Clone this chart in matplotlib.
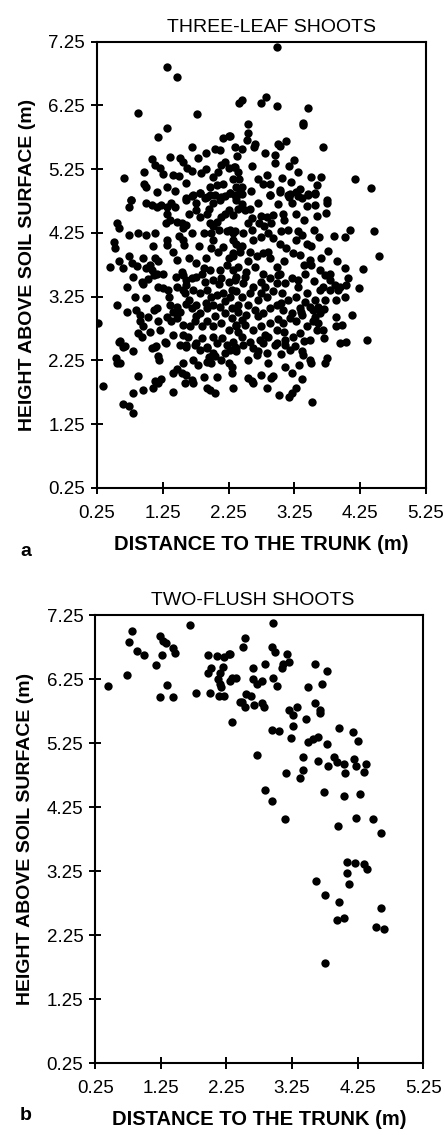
"""Two scatter panels: shoot positions (distance to trunk vs height above soil)."""

import matplotlib

matplotlib.use("Agg")
import matplotlib.pyplot as plt

plt.rcParams["font.family"] = ["Liberation Sans", "DejaVu Sans"]

# panel a: three-leaf shoots (distance m, height m)
leaf_x = [
    1.32, 1.47, 0.88, 1.77, 1.32, 1.17, 2.16, 2.26, 2.41, 2.04, 2.12, 1.08, 1.36, 1.51, 1.55,
    1.79, 0.66, 0.96, 1.13, 1.21, 1.26, 1.41, 1.49, 1.62, 1.70, 1.83, 0.96, 0.99, 1.16, 1.31,
    1.44, 1.60, 0.76, 2.02, 2.09, 2.14, 2.20, 2.25, 2.35, 2.40, 1.97, 2.07, 2.17, 2.32, 2.37,
    1.71, 1.82, 1.92, 2.04, 2.14, 2.27, 2.37, 1.61,
    2.98, 2.46, 2.82, 2.74, 2.98, 3.46, 3.38, 3.38, 3.69, 2.55, 2.55, 2.53, 2.65, 2.64, 2.46,
    2.38, 2.27, 3.00, 3.03, 3.12, 2.95, 2.95, 3.17, 3.24, 2.33, 3.50, 3.66, 4.17, 4.41, 2.83,
    2.78, 2.88, 3.06, 2.41, 2.46, 2.42, 2.59, 2.35, 2.45, 3.03, 3.33, 2.88, 3.18, 3.31, 3.46,
    3.56, 3.74,
    0.74, 0.76, 1.00, 1.08, 1.16, 1.23, 1.31, 1.31, 1.38, 1.44, 1.36, 1.46, 1.54, 1.61, 1.56,
    1.61, 1.69, 1.76, 1.82, 1.89, 1.97, 2.02, 2.12, 2.20, 2.27, 2.37, 1.76, 1.82, 1.92, 2.14,
    2.07, 2.02, 1.97, 2.25, 2.32, 2.40, 0.55, 0.59, 0.74, 0.88, 1.00, 1.13, 1.31, 1.32, 1.56,
    1.57, 1.87, 1.99, 2.02, 2.22, 2.32, 0.51, 0.52, 0.45, 0.59, 0.65, 0.73, 0.78, 0.86, 1.00,
    1.08, 1.06, 1.13, 1.18, 1.46, 1.54, 1.56, 1.99, 2.09, 2.17, 2.32, 2.42, 1.76, 1.87, 1.97,
    2.12, 2.22, 2.32, 1.61, 1.69, 1.76, 1.89, 2.02, 2.14, 2.25, 2.37, 0.93, 1.03, 1.11, 1.16,
    1.18, 1.26, 1.33, 1.46, 1.56, 1.61, 1.59, 1.71, 1.82, 1.92, 1.99, 2.07, 2.17, 2.27, 2.37,
    0.83, 1.00, 0.56, 0.85, 0.90, 1.03, 1.11, 1.16, 1.36, 1.46, 1.51, 1.61, 1.69, 1.76, 1.82,
    1.92, 2.02, 2.12, 2.20, 2.30, 2.40, 0.27, 0.60, 0.65, 0.90, 0.95, 0.88, 0.93, 1.18, 1.21,
    1.31, 1.38, 1.46, 1.56, 1.66, 1.74, 1.84, 1.92, 2.02, 2.14, 2.25, 2.37, 1.13, 1.28, 1.51,
    1.61, 1.76, 1.92, 2.07, 2.22, 2.35, 1.41, 2.02, 1.64,
    2.88, 3.03, 3.16, 3.28, 3.36, 3.46, 3.56, 3.74, 3.73, 3.56, 3.44, 3.21, 3.17, 3.08, 3.27,
    2.50, 2.58, 2.61, 2.75, 2.84, 2.93, 2.72, 2.79, 2.90, 2.55, 2.35, 2.32, 2.37, 4.09, 4.02,
    4.46, 4.54, 3.63, 3.76, 3.16, 3.31, 3.36, 3.28, 3.44, 4.02, 4.30, 4.07, 4.04, 4.24, 4.02,
    4.12, 4.36, 3.94, 4.04, 3.89, 3.89, 3.98, 3.64, 3.71, 3.79, 3.87, 3.92, 3.89, 3.79, 3.69,
    3.64, 3.71, 3.61, 3.56, 3.64, 3.61, 3.69, 3.59, 3.53, 3.54,
    2.27, 2.47, 2.62, 2.75, 2.93, 3.03, 3.13, 3.23, 3.33, 3.49, 3.51, 3.41, 3.31, 3.21, 3.11,
    3.03, 2.98, 2.88, 2.78, 2.68, 2.57, 2.42, 2.32, 2.40, 2.52, 2.65, 2.78, 2.88, 2.98, 2.75,
    2.62, 2.47, 2.35, 2.30, 2.45, 2.57, 2.70, 2.83, 2.93, 3.06, 3.16, 3.28, 3.41, 3.49, 3.33,
    3.21, 3.08, 2.98, 2.88, 2.78, 2.65, 2.52, 2.40, 2.30, 2.37, 2.50, 2.62, 2.75, 2.88, 2.98,
    3.08, 3.18, 3.28, 3.36, 3.44, 3.33, 3.23, 3.11, 2.98, 2.85, 2.73, 2.57, 2.45, 2.32, 3.49,
    3.56,
    0.59, 0.68, 0.34, 0.54, 0.56, 0.60, 0.64, 0.73, 0.80, 0.79, 0.88, 0.95, 1.08, 1.15, 1.18,
    1.30, 1.10, 1.13, 1.18, 1.22, 1.40, 1.41, 1.46, 1.56, 1.54, 1.61, 1.59, 1.69, 1.71, 1.61,
    1.74, 1.82, 1.92, 2.02, 1.71, 1.79, 1.92, 1.87, 1.92, 1.97, 2.04, 2.07, 1.99, 2.04, 2.14,
    2.20, 2.27, 2.37, 2.30, 2.30, 2.32,
    2.37, 2.47, 2.62, 2.68, 2.70, 2.78, 2.83, 2.95, 3.11, 3.18, 3.26, 3.36, 3.38, 3.49, 3.51,
    3.71, 3.74, 2.75, 2.55, 2.60, 2.62, 2.90, 2.93, 2.84, 3.11, 3.22, 3.32, 3.36, 3.02, 3.17,
    3.22, 3.28, 3.52,
    # denser core, estimated
    1.65, 1.95, 2.20, 2.45, 2.70, 3.00, 3.10, 3.40, 3.55, 3.60,
    1.50, 1.70, 1.80, 2.10, 2.45, 2.60, 2.85, 3.05, 3.50, 3.85,
    1.40, 1.65, 1.90, 2.25, 2.55, 2.85, 3.10, 3.40, 3.65, 3.90,
    1.25, 1.45, 1.85, 2.10, 2.50, 2.80, 3.00, 3.30, 3.55, 3.80,
    1.35, 1.65, 1.90, 2.20, 2.55, 2.75, 3.05, 3.45, 3.70, 3.95,
    1.40, 1.75, 2.05, 2.45, 2.70, 3.00, 3.35, 3.70, 1.55, 1.85,
    2.15, 2.40, 2.80, 3.10, 3.40, 1.95, 2.25, 2.55, 2.85, 3.05,
    1.30, 1.10, 0.95, 0.80, 0.70, 0.95, 0.70, 1.05, 0.80, 1.20,
    1.70, 1.90, 2.35, 2.80, 3.30, 3.60, 1.90, 2.60, 2.70, 3.20,
]
leaf_y = [
    6.85, 6.70, 6.13, 6.11, 5.89, 5.75, 5.74, 5.77, 6.29, 5.56, 5.55, 5.40, 5.44, 5.42, 5.36,
    5.42, 5.11, 5.21, 5.32, 5.26, 5.17, 5.15, 5.14, 5.26, 5.22, 5.19, 5.02, 4.96, 4.89, 4.96,
    4.91, 5.03, 4.77, 5.13, 5.21, 5.31, 5.36, 5.26, 5.28, 5.21, 4.97, 5.00, 5.02, 5.10, 4.97,
    4.84, 4.87, 4.81, 4.84, 4.81, 4.87, 4.81, 4.79,
    7.16, 6.33, 6.38, 6.29, 6.24, 6.20, 5.97, 5.94, 5.60, 5.95, 5.82, 5.71, 5.65, 5.59, 5.57,
    5.46, 5.77, 5.65, 5.61, 5.69, 5.47, 5.34, 5.30, 5.39, 5.28, 5.12, 5.13, 5.09, 4.95, 5.16,
    5.02, 5.02, 5.11, 5.09, 4.97, 4.90, 4.90, 4.84, 4.86, 4.92, 4.93, 4.84, 4.86, 4.82, 4.86,
    4.87, 4.77,
    4.66, 4.76, 4.71, 4.68, 4.66, 4.68, 4.66, 4.55, 4.71, 4.66, 4.45, 4.42, 4.40, 4.37, 4.32,
    4.76, 4.82, 4.71, 4.87, 4.79, 4.84, 4.71, 4.76, 4.82, 4.87, 4.76, 4.61, 4.50, 4.55, 4.50,
    4.42, 4.35, 4.40, 4.61, 4.53, 4.63, 4.40, 4.32, 4.21, 4.25, 4.21, 4.24, 4.14, 4.06, 4.14,
    4.06, 4.24, 4.24, 4.14, 4.27, 4.24, 4.11, 4.01, 3.72, 3.80, 3.69, 3.88, 3.77, 3.73, 3.69,
    3.67, 3.74, 3.85, 3.80, 3.82, 3.64, 3.59, 4.01, 3.95, 4.03, 3.93, 4.01, 3.77, 3.69, 3.67,
    3.67, 3.74, 3.67, 3.51, 3.54, 3.56, 3.48, 3.51, 3.54, 3.48, 3.56, 3.48, 3.52, 3.59, 3.61,
    3.40, 3.38, 3.35, 3.40, 3.35, 3.43, 3.30, 3.35, 3.30, 3.35, 3.25, 3.27, 3.30, 3.25, 3.33,
    3.25, 3.22, 3.12, 3.04, 2.96, 2.93, 3.04, 3.07, 3.12, 3.09, 3.01, 3.14, 3.07, 3.12, 2.99,
    3.07, 3.12, 3.09, 2.99, 3.07, 3.12, 2.84, 2.56, 2.46, 2.86, 2.78, 2.67, 2.62, 2.86, 2.73,
    2.93, 2.86, 2.91, 2.80, 2.78, 2.86, 2.78, 2.86, 2.78, 2.83, 2.73, 2.80, 2.46, 2.54, 2.49,
    2.46, 2.52, 2.46, 2.52, 2.49, 2.46, 2.65, 2.62, 2.62,
    4.84, 4.89, 4.84, 4.89, 4.80, 4.84, 4.86, 4.72, 4.56, 4.68, 4.67, 4.72, 4.81, 4.55, 4.55,
    4.61, 4.63, 4.48, 4.51, 4.50, 4.53, 4.40, 4.35, 4.40, 4.40, 4.27, 4.14, 4.07, 4.29, 4.19,
    4.28, 3.88, 4.18, 3.97, 4.29, 4.27, 4.21, 4.14, 4.08, 3.69, 3.68, 3.54, 3.43, 3.38, 3.25,
    2.96, 2.57, 2.52, 2.53, 2.93, 2.78, 2.80, 3.67, 3.59, 3.51, 3.43, 3.35, 3.20, 3.35, 3.40,
    3.35, 3.20, 3.09, 2.93, 2.99, 2.83, 2.73, 2.73, 2.86, 3.04,
    4.29, 4.24, 4.14, 4.19, 4.16, 4.08, 4.01, 3.93, 3.90, 3.82, 3.74, 3.61, 3.51, 3.54, 3.46,
    3.61, 3.72, 3.85, 3.93, 3.88, 3.95, 3.95, 3.88, 3.72, 3.64, 3.72, 3.61, 3.54, 3.46, 3.48,
    3.40, 3.46, 3.51, 3.35, 3.25, 3.30, 3.20, 3.25, 3.33, 3.30, 3.20, 3.25, 3.17, 3.09, 3.07,
    2.99, 3.04, 3.12, 3.07, 2.99, 3.04, 2.96, 3.01, 2.91, 2.78, 2.80, 2.73, 2.78, 2.83, 2.73,
    2.83, 2.91, 2.86, 2.96, 2.78, 2.67, 2.62, 2.57, 2.52, 2.62, 2.57, 2.54, 2.62, 2.54, 2.57,
    3.20,
    2.54, 2.47, 1.84, 2.28, 2.21, 2.20, 1.57, 1.53, 1.42, 1.74, 2.01, 1.79, 2.44, 2.47, 2.31,
    2.52, 1.81, 1.92, 1.90, 1.95, 1.76, 2.05, 2.11, 2.21, 2.05, 2.02, 1.89, 1.94, 1.89, 2.49,
    2.49, 2.41, 2.44, 2.36, 2.26, 2.18, 2.23, 1.99, 1.81, 1.79, 1.73, 1.99, 2.20, 2.31, 2.26,
    2.36, 2.41, 2.44, 2.15, 2.05, 1.81,
    2.39, 2.49, 2.44, 2.33, 2.39, 2.52, 2.36, 2.49, 2.49, 2.41, 2.47, 2.39, 2.33, 2.26, 2.20,
    2.20, 2.28, 2.02, 1.97, 1.92, 1.89, 1.97, 2.00, 1.81, 2.15, 2.05, 2.18, 1.95, 1.71, 1.68,
    1.74, 1.81, 1.59,
    # denser core, estimated
    4.55, 4.62, 4.55, 4.70, 4.72, 4.70, 4.45, 4.45, 4.30, 4.52,
    4.20, 4.25, 4.05, 4.30, 4.05, 4.30, 4.25, 4.28, 4.05, 4.20,
    3.95, 3.85, 3.85, 3.85, 3.80, 3.95, 3.80, 3.75, 3.85, 3.80,
    3.60, 3.55, 3.60, 3.45, 3.55, 3.40, 3.58, 3.40, 3.50, 3.60,
    3.25, 3.20, 3.15, 3.18, 3.12, 3.30, 3.15, 3.30, 3.05, 3.40,
    3.00, 2.95, 2.95, 2.88, 2.95, 2.90, 3.00, 2.60, 2.65, 2.60,
    2.60, 2.70, 2.65, 2.70, 2.55, 2.30, 2.20, 2.25, 2.20, 2.35,
    4.40, 4.05, 3.85, 3.55, 3.40, 3.45, 3.00, 2.70, 2.40, 2.25,
    5.60, 5.50, 5.60, 5.50, 5.20, 5.00, 5.25, 5.30, 5.10, 5.05,
]

# panel b: two-flush shoots
flush_x = [
    0.44, 0.74, 0.76, 0.88, 1.00, 1.18, 1.27, 1.29, 1.33, 1.44, 1.46, 1.34, 1.23, 1.44, 1.78,
    2.00, 1.97, 2.10, 2.22, 2.29, 2.02, 1.97, 2.15, 2.20, 2.12, 2.15, 2.17, 2.30, 2.40, 2.14,
    2.22, 2.33, 2.45, 0.81, 1.70, 1.23, 2.54, 2.96,
    2.50, 2.30, 2.94, 2.99, 3.18, 3.21, 3.12, 3.09, 2.84, 2.66, 2.33, 2.65, 2.71, 2.80, 2.96,
    3.02, 3.60, 3.79, 3.70, 3.49, 2.55, 2.62, 2.48, 2.54, 2.67, 2.80, 2.82, 3.21, 3.26, 3.33,
    3.60, 3.68, 3.68, 3.47, 3.27, 2.94, 3.05, 3.23, 3.50, 3.57, 3.65, 3.78, 3.97, 4.18, 4.25,
    2.72, 3.42, 3.65, 3.89, 3.93, 3.80, 4.04, 4.06, 4.20, 4.23, 4.38, 4.35, 3.16, 3.41, 3.37,
    2.84, 2.95, 3.74, 4.04, 4.29, 3.14, 3.95, 4.22, 4.49, 4.60, 4.09, 4.21, 4.34, 4.40, 4.09,
    3.61, 4.12, 3.76, 3.97, 4.61, 3.93, 4.04, 4.53, 4.65, 3.75,
]
flush_y = [
    6.14, 6.32, 6.83, 6.69, 6.63, 6.47, 6.63, 6.85, 6.81, 6.73, 6.66, 6.16, 5.97, 5.97, 6.03,
    6.04, 6.63, 6.61, 6.60, 6.64, 6.43, 6.34, 6.34, 6.44, 6.25, 6.18, 6.13, 6.22, 6.26, 5.99,
    5.99, 5.58, 5.90, 7.00, 7.10, 6.92, 6.90, 7.12,
    6.75, 6.64, 6.75, 6.68, 6.65, 6.52, 6.49, 6.42, 6.49, 6.42, 6.26, 6.25, 6.18, 6.22, 6.26,
    6.15, 6.49, 6.37, 6.18, 6.13, 6.02, 5.99, 5.90, 5.82, 5.84, 5.88, 5.82, 5.77, 5.69, 5.81,
    5.87, 5.77, 5.72, 5.62, 5.51, 5.46, 5.44, 5.33, 5.27, 5.31, 5.34, 5.24, 5.49, 5.43, 5.29,
    5.06, 5.04, 4.97, 5.04, 4.96, 4.89, 4.92, 4.79, 5.00, 4.89, 4.93, 4.80, 4.78, 4.83, 4.70,
    4.52, 4.35, 4.48, 4.43, 4.45, 4.06, 3.96, 4.08, 4.07, 3.85, 3.40, 3.37, 3.36, 3.29, 3.22,
    3.10, 3.05, 2.87, 2.77, 2.68, 2.49, 2.52, 2.38, 2.34, 1.81,
]

TICKS = [0.25, 1.25, 2.25, 3.25, 4.25, 5.25]
Y_TICKS = [0.25, 1.25, 2.25, 3.25, 4.25, 5.25, 6.25, 7.25]

fig = plt.figure(figsize=(4.45, 11.37), dpi=100)
ax_a = fig.add_axes([0.218, 0.571, 0.739, 0.3925])
ax_b = fig.add_axes([0.214, 0.065, 0.737, 0.394])

panels = [
    (ax_a, leaf_x, leaf_y, "THREE-LEAF SHOOTS", 0.53),
    (ax_b, flush_x, flush_y, "TWO-FLUSH SHOOTS", 0.48),
]
for ax, xs, ys, title, tx in panels:
    ax.scatter(xs, ys, s=36, color="black", linewidths=0, zorder=3)
    ax.set_xlim(0.25, 5.25)
    ax.set_ylim(0.25, 7.25)
    ax.set_xticks(TICKS)
    ax.set_yticks(Y_TICKS)
    ax.set_xticklabels([f"{t:.2f}" for t in TICKS])
    ax.set_yticklabels([f"{t:.2f}" for t in Y_TICKS])
    ax.tick_params(direction="inout", length=9, width=1.4, labelsize=13.5, color="black")
    ax.tick_params(axis="x", pad=8)
    ax.tick_params(axis="y", pad=4)
    for sp in ax.spines.values():
        sp.set_linewidth(1.5)
    ax.set_title(title, fontsize=14, pad=7, x=tx)
    ax.set_xlabel("DISTANCE TO THE TRUNK (m)", fontsize=14.5, fontweight="bold", labelpad=9)
    ax.set_ylabel("HEIGHT ABOVE SOIL SURFACE (m)", fontsize=14, fontweight="bold", labelpad=9)

fig.text(0.045, 1 - 551 / 1137, "a", fontsize=14, fontweight="bold", va="center")
fig.text(0.045, 1 - 1116 / 1137, "b", fontsize=14, fontweight="bold", va="center")

fig.savefig("out.png", dpi=100)
